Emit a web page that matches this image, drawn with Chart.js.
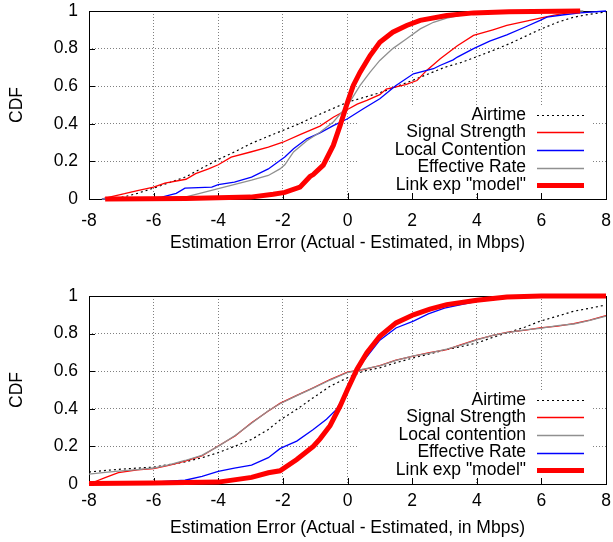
<!DOCTYPE html>
<html>
<head>
<meta charset="utf-8">
<script src="https://cdn.jsdelivr.net/npm/chart.js@4.4.1/dist/chart.umd.min.js"></script>
<style>
  body { margin: 0; background: #fff; }
  canvas { display: block; }
</style>
</head>
<body>
<canvas id="topChart" width="613" height="271"></canvas>
<canvas id="bottomChart" width="613" height="271"></canvas>
<script>
// CDF points as [error in Mbps, cumulative fraction]
const topAirtime = [[-7.3,0],[-6.9,0.012],[-6.5,0.03],[-6,0.058],[-5.5,0.088],[-5,0.118],[-4.5,0.165],[-4,0.21],
  [-3.5,0.25],[-3,0.294],[-2.5,0.33],[-2,0.365],[-1.5,0.4],[-1,0.44],[-0.5,0.478],[0,0.515],[0.5,0.54],[1,0.565],
  [1.5,0.597],[2,0.63],[2.5,0.665],[3,0.7],[3.5,0.725],[4,0.757],[4.5,0.79],[5,0.825],[5.5,0.865],[6,0.905],
  [6.5,0.94],[7,0.967],[7.5,0.983],[8,0.995]];
const topSignal = [[-7.6,0],[-7.5,0.005],[-6.9,0.028],[-6.5,0.045],[-6,0.063],[-5.65,0.085],[-5,0.105],[-4.7,0.135],
  [-4.3,0.16],[-4,0.182],[-3.6,0.223],[-3,0.25],[-2.45,0.276],[-2,0.302],[-1.47,0.342],[-0.85,0.388],[-0.44,0.435],
  [0,0.476],[0.3,0.505],[0.6,0.525],[1,0.555],[1.2,0.585],[1.8,0.608],[2.15,0.63],[2.45,0.684],[2.87,0.746],
  [3.4,0.815],[3.9,0.87],[4.5,0.9],[4.93,0.923],[5.5,0.945],[5.96,0.962],[6.4,0.978],[6.8,0.99],[7.2,1]];
const topContention = [[-7.6,0],[-6,0.005],[-5.75,0.01],[-5.3,0.03],[-5.03,0.058],[-4.2,0.063],[-4,0.076],[-3.5,0.09],
  [-2.97,0.116],[-2.45,0.16],[-2.09,0.205],[-1.94,0.223],[-1.67,0.267],[-1.26,0.32],[-0.85,0.352],[-0.44,0.39],
  [0,0.427],[0.49,0.48],[1,0.533],[1.5,0.604],[2.04,0.666],[2.66,0.693],[2.86,0.71],[3.27,0.74],[3.4,0.755],
  [3.9,0.8],[4.4,0.84],[4.93,0.873],[5.5,0.915],[5.96,0.95],[6.17,0.967],[6.7,0.98],[7.2,0.99],[8,1]];
const topEffective = [[-7.6,0],[-6.5,0.002],[-5.03,0.01],[-4.51,0.033],[-4,0.055],[-2.97,0.1],[-2.45,0.125],[-2.09,0.16],
  [-1.94,0.182],[-1.67,0.25],[-1.26,0.31],[-0.85,0.355],[-0.44,0.41],[0,0.497],[0.39,0.604],[0.7,0.675],[1,0.737],
  [1.4,0.8],[1.83,0.852],[2.25,0.905],[2.66,0.94],[3.07,0.962],[3.7,0.985],[4.5,0.995],[5,1],[7.3,1]];
const topModel = [[-7.5,0],[-5,0.003],[-3,0.01],[-2.3,0.025],[-1.94,0.035],[-1.47,0.063],[-1.16,0.12],[-1.06,0.13],
  [-0.75,0.18],[-0.44,0.285],[-0.23,0.39],[0,0.515],[0.18,0.604],[0.39,0.675],[0.7,0.763],[1,0.834],[1.4,0.887],
  [1.83,0.923],[2.25,0.95],[3.07,0.976],[3.9,0.99],[5,0.996],[7.2,1]];

const bottomAirtime = [[-8,0.064],[-7.09,0.078],[-6,0.09],[-5.03,0.117],[-4.5,0.14],[-4,0.167],[-3.5,0.2],[-2.97,0.237],
  [-2.45,0.29],[-2.09,0.34],[-1.57,0.397],[-1.06,0.459],[-0.54,0.52],[0,0.565],[0.49,0.6],[1,0.618],[1.5,0.645],
  [2.04,0.671],[2.5,0.69],[3.07,0.715],[3.5,0.73],[4,0.75],[4.5,0.78],[4.93,0.804],[5.5,0.835],[5.96,0.866],
  [6.5,0.893],[7,0.919],[7.5,0.935],[7.9,0.949]];
const bottomSignal = [[-8,0],[-7.5,0.034],[-7.09,0.06],[-6.5,0.075],[-6,0.082],[-5.5,0.1],[-5.03,0.122],[-4.51,0.149],
  [-4,0.202],[-3.48,0.255],[-2.97,0.326],[-2.45,0.388],[-2.09,0.429],[-1.57,0.471],[-1.06,0.512],[-0.54,0.556],
  [0,0.595],[0.49,0.609],[1,0.63],[1.5,0.659],[2.04,0.68],[2.5,0.697],[3.07,0.715],[3.5,0.74],[4,0.768],[4.5,0.79],
  [4.93,0.807],[5.5,0.818],[5.96,0.83],[6.5,0.84],[7,0.853],[7.5,0.872],[8,0.896]];
const bottomContention = [[-8,0.052],[-7.5,0.062],[-7.09,0.068],[-6.5,0.077],[-6,0.085],[-5.5,0.103],[-5.03,0.125],
  [-4.51,0.152],[-4,0.2],[-3.48,0.258],[-2.97,0.323],[-2.45,0.39],[-2.09,0.427],[-1.57,0.47],[-1.06,0.51],
  [-0.54,0.553],[0,0.593],[0.49,0.611],[1,0.628],[1.5,0.657],[2.04,0.682],[2.5,0.695],[3.07,0.717],[3.5,0.738],
  [4,0.766],[4.5,0.791],[4.93,0.805],[5.5,0.82],[5.96,0.828],[6.5,0.842],[7,0.851],[7.5,0.87],[8,0.893]];
const bottomEffective = [[-8,0],[-6.5,0.005],[-6,0.01],[-5.03,0.02],[-4.5,0.04],[-4,0.067],[-3.5,0.085],[-2.97,0.1],
  [-2.45,0.14],[-2.09,0.188],[-1.94,0.2],[-1.57,0.228],[-1.06,0.29],[-0.65,0.344],[-0.34,0.397],[-0.1,0.47],
  [0.2,0.57],[0.5,0.655],[1,0.765],[1.5,0.83],[2.04,0.866],[2.5,0.905],[3,0.935],[4,0.972],[5,0.99],[6,0.998],[8,1]];
const bottomModel = [[-8,0.002],[-6,0.005],[-4,0.01],[-2.97,0.035],[-2.45,0.06],[-2.09,0.07],[-1.57,0.13],[-1.06,0.2],
  [-0.85,0.24],[-0.54,0.31],[-0.23,0.414],[0,0.503],[0.29,0.609],[0.6,0.698],[1,0.786],[1.5,0.857],[2.04,0.9],
  [2.55,0.93],[3.07,0.954],[4,0.977],[4.93,0.995],[6,1],[8,1]];

const topLabels = ['Airtime', 'Signal Strength', 'Local Contention', 'Effective Rate', 'Link exp "model"'];
const bottomLabels = ['Airtime', 'Signal Strength', 'Local contention', 'Effective Rate', 'Link exp "model"'];

const FONT = 'Liberation Sans, Arial, Helvetica, sans-serif';
const FONT_SIZE = 17.5;

const dotted = { borderColor: '#000000', borderWidth: 1.2, borderDash: [2, 3] };
const thin = (c) => ({ borderColor: c, borderWidth: 1.3 });
const thick = { borderColor: '#ff0000', borderWidth: 5 };

function makeDataset(label, pts, style, order) {
  return Object.assign({
    label: label,
    data: pts.map(([x, y]) => ({ x: x, y: y })),
    pointRadius: 0,
    tension: 0,
    fill: false,
    clip: 4,
    order: order
  }, style);
}

// white key box with gnuplot-style entries: right-aligned text, sample line to the right
const keyPlugin = {
  id: 'gnuKey',
  beforeDatasetsDraw(chart) {
    const { ctx, chartArea: a } = chart;
    const n = chart.data.datasets.length;
    const top = a.bottom - 13.8 - (n - 1) * 17.6 - 8;
    ctx.save();
    ctx.fillStyle = '#fff';
    ctx.fillRect(a.left + 268, top, a.right - 13 - (a.left + 268), a.bottom - 5 - top);
    // inward ticks on bottom and left
    ctx.strokeStyle = '#000';
    ctx.lineWidth = 1;
    ctx.beginPath();
    chart.scales.x.ticks.forEach(t => {
      const px = Math.round(chart.scales.x.getPixelForValue(t.value)) + 0.5;
      ctx.moveTo(px, a.bottom);
      ctx.lineTo(px, a.bottom - 6);
    });
    chart.scales.y.ticks.forEach(t => {
      const py = Math.round(chart.scales.y.getPixelForValue(t.value)) + 0.5;
      ctx.moveTo(a.left, py);
      ctx.lineTo(a.left + 6, py);
    });
    ctx.stroke();
    ctx.strokeRect(Math.round(a.left) + 0.5, Math.round(a.top) + 0.5,
      Math.round(a.right - a.left), Math.round(a.bottom - a.top));
    ctx.restore();
  },
  afterDatasetsDraw(chart) {
    const { ctx, chartArea: a } = chart;
    const sets = chart.data.datasets;
    ctx.save();
    ctx.font = FONT_SIZE + 'px ' + FONT;
    ctx.textAlign = 'right';
    ctx.textBaseline = 'middle';
    sets.forEach((ds, i) => {
      const y = a.bottom - 13.8 - (sets.length - 1 - i) * 17.6;
      ctx.fillStyle = '#000';
      ctx.fillText(ds.label, a.right - 80, y);
      ctx.strokeStyle = ds.borderColor;
      ctx.lineWidth = ds.borderWidth;
      ctx.setLineDash(ds.borderDash || []);
      ctx.beginPath();
      ctx.moveTo(a.right - 69, Math.round(y) + 0.5);
      ctx.lineTo(a.right - 22, Math.round(y) + 0.5);
      ctx.stroke();
    });
    ctx.restore();
  }
};

const tickText = (v) => String(Number(v.toFixed(1)));

function makeChart(id, datasets, padTop, xHeight, xTickPad, xTitlePad) {
  return new Chart(document.getElementById(id), {
    type: 'line',
    data: { datasets: datasets },
    plugins: [keyPlugin],
    options: {
      responsive: false,
      animation: false,
      layout: { padding: { top: padTop, right: 7, left: 0, bottom: 0 } },
      plugins: { legend: { display: false }, tooltip: { enabled: false } },
      scales: {
        x: {
          type: 'linear', min: -8, max: 8,
          afterFit: (s) => { s.height = xHeight; s.paddingLeft = 0; s.paddingRight = 0; },
          ticks: { stepSize: 2, color: '#000', padding: xTickPad, callback: tickText,
            font: { family: FONT, size: FONT_SIZE } },
          grid: { color: '#808080', lineWidth: 1, drawTicks: false },
          border: { display: false, dash: [1, 2] },
          title: { display: true, text: 'Estimation Error (Actual - Estimated, in Mbps)', color: '#000',
            padding: { top: 0, bottom: xTitlePad }, font: { family: FONT, size: FONT_SIZE } }
        },
        y: {
          min: 0, max: 1,
          afterFit: (s) => { s.width = 89; s.paddingTop = 0; s.paddingBottom = 0; },
          ticks: { stepSize: 0.2, color: '#000', padding: 11, callback: tickText,
            font: { family: FONT, size: FONT_SIZE } },
          grid: { color: '#808080', lineWidth: 1, drawTicks: false },
          border: { display: false, dash: [1, 2] },
          title: { display: true, text: 'CDF', color: '#000',
            padding: { top: 6.5, bottom: 0 }, font: { family: FONT, size: FONT_SIZE } }
        }
      }
    }
  });
}

makeChart('topChart', [
  makeDataset(topLabels[0], topAirtime, dotted, 5),
  makeDataset(topLabels[1], topSignal, thin('#ff0000'), 4),
  makeDataset(topLabels[2], topContention, thin('#0000ff'), 3),
  makeDataset(topLabels[3], topEffective, thin('#909090'), 2),
  makeDataset(topLabels[4], topModel, thick, 1)
], 11, 72, 12, 17.5);

makeChart('bottomChart', [
  makeDataset(bottomLabels[0], bottomAirtime, dotted, 5),
  makeDataset(bottomLabels[1], bottomSignal, thin('#ff0000'), 4),
  makeDataset(bottomLabels[2], bottomContention, thin('#909090'), 3),
  makeDataset(bottomLabels[3], bottomEffective, thin('#0000ff'), 2),
  makeDataset(bottomLabels[4], bottomModel, thick, 1)
], 25, 58, 7, 3);
</script>
</body>
</html>
